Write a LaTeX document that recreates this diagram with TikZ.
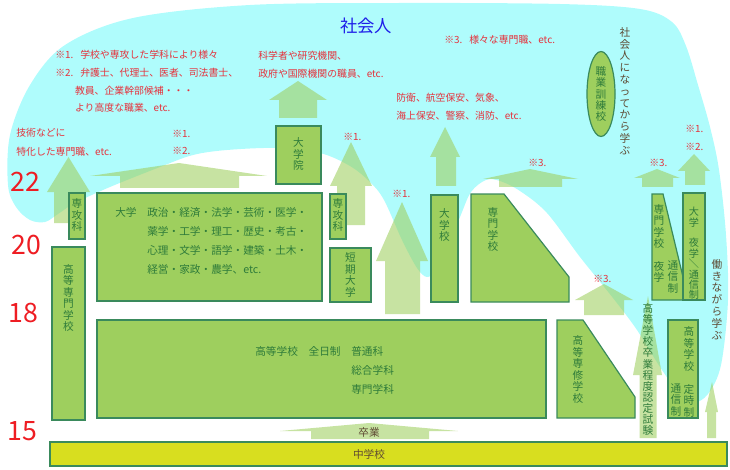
\documentclass[tikz,border=0pt]{standalone}
\usepackage{fontspec}
\setmainfont{Noto Sans CJK JP}
\usetikzlibrary{shapes.geometric,fit}
\definecolor{skycyan}{HTML}{AFFCFC}
\definecolor{edufill}{HTML}{9ECF5E}
\definecolor{edugreen}{HTML}{3A8A5C}
\definecolor{edutext}{HTML}{2E7B3A}
\definecolor{notered}{HTML}{E5323C}
\definecolor{agered}{HTML}{EE1D23}
\definecolor{workblue}{HTML}{1E1EE8}
\definecolor{sidebrown}{HTML}{5E4A33}
\definecolor{jhsyellow}{HTML}{D8DE1F}

\begin{document}
\begin{tikzpicture}[x=0.75pt, y=-0.75pt,
    box/.style={draw=edugreen, line width=0.9pt, fill=edufill, inner sep=0pt},
    blockarrow/.style={fill=edufill, fill opacity=0.58},
    vtext/.style={text=edutext, inner sep=0pt, align=center, font={\fontsize{8}{8.6}\selectfont\lineskiplimit=-5pt}},
    htext/.style={text=edutext, inner sep=0pt, align=left, font={\fontsize{8}{14.25}\selectfont}},
    note/.style={text=notered, inner sep=0pt, align=left, font={\fontsize{7.4}{13.3}\selectfont}},
    side/.style={text=sidebrown, inner sep=0pt, align=center, font={\fontsize{8}{8.85}\selectfont\lineskiplimit=-5pt}},
    age/.style={text=agered, inner sep=0pt, font={\fontsize{20}{20}\selectfont}}]
  \useasboundingbox (0,0) rectangle (730,470);

  % society blob
  \fill[skycyan] plot[smooth cycle, tension=0.55] coordinates {
    (8,185) (10,135) (30,85) (65,45) (133,18) (250,5) (400,3) (560,4) (640,9)
    (672,22) (686,46) (698,85) (710,127) (719,170) (726,235) (728,300) (721,365)
    (708,394) (693,403) (680,395) (660,367) (637,330) (613,298) (580,257)
    (547,213) (520,191) (500,181) (486,180) (471,192) (460,217) (447,248)
    (436,270) (427,277) (417,268) (402,240) (384,200) (370,182) (350,166)
    (320,153) (277,148) (227,150) (193,155) (160,167) (110,187) (75,203)
    (58,214) (45,222) (30,220) (16,207)};

  % block arrows
  \fill[blockarrow] (54,223) -- (54,192) -- (47,192) -- (68.5,157) -- (90,192) -- (83,192) -- (83,223) -- cycle;
  \fill[blockarrow] (120,188) -- (120,176) -- (90,176) -- (179,163) -- (267,176) -- (239,176) -- (239,188) -- cycle;
  \fill[blockarrow] (279,118) -- (279,100) -- (269,100) -- (298,81) -- (327,100) -- (317,100) -- (317,118) -- cycle;
  \fill[blockarrow] (337,225) -- (337,186) -- (330,186) -- (351,142) -- (372,186) -- (365,186) -- (365,225) -- cycle;
  \fill[blockarrow] (385,314) -- (385,261) -- (376,261) -- (402,202) -- (428,261) -- (420,261) -- (420,314) -- cycle;
  \fill[blockarrow] (436,186) -- (436,157) -- (430,157) -- (445,127) -- (460,157) -- (456,157) -- (456,186) -- cycle;
  \fill[blockarrow] (499,187) -- (499,179) -- (483,179) -- (530,169) -- (578,179) -- (562,179) -- (562,187) -- cycle;
  \fill[blockarrow] (584,315) -- (584,300) -- (575,300) -- (604,284) -- (633,300) -- (624,300) -- (624,315) -- cycle;
  \fill[blockarrow] (642,187) -- (642,178) -- (634,178) -- (657,169) -- (680,178) -- (673,178) -- (673,187) -- cycle;
  \fill[blockarrow] (685,185) -- (685,171) -- (678,171) -- (694,154) -- (710,171) -- (705,171) -- (705,185) -- cycle;
  \fill[blockarrow] (639.5,438) -- (639.5,375) -- (633,375) -- (648,296) -- (662,375) -- (656.5,375) -- (656.5,438) -- cycle;
  \fill[blockarrow] (707,438) -- (707,412) -- (705,412) -- (712,382) -- (718,412) -- (716,412) -- (716,438) -- cycle;
  \fill[blockarrow] (311,439) -- (311,431) -- (280,431) -- (369,423) -- (458,431) -- (429,431) -- (429,439) -- cycle;

  % schools
  \node[box, fit={(69,193) (85,239)}] (senkouL) {};
  \node[box, fit={(52,247) (85,420)}] (kosen) {};
  \node[box, fit={(97,193) (322,301)}] (daigaku) {};
  \node[box, fit={(276,126) (321,184)}] (daigakuin) {};
  \node[box, fit={(330,194) (346,239)}] (senkouM) {};
  \node[box, fit={(330,248) (371,302)}] (tandai) {};
  \node[box, fit={(431,195) (458,302)}] (daigakko) {};
  \draw[box] (471,194) -- (504,194) -- (569,277) -- (569,302) -- (471,302) -- cycle;
  \node[box, fit={(97,320) (546,418)}] (koko) {};
  \draw[box] (557,320) -- (583,320) -- (635,397) -- (635,418) -- (557,418) -- cycle;
  \node[box, fit={(668,320) (698,418)}] (teiji) {};
  \draw[box] (652,194) -- (663,194) -- (683,277) -- (683,300) -- (652,300) -- cycle;
  \node[box, fit={(683,193) (705,300)}] (daigakuYa) {};
  \node[box, ellipse, minimum width=21pt, minimum height=63.75pt] (shokugyo) at (601,94) {};
  \node[box, fill=jhsyellow, fit={(50,442) (727,466)}] (chugaku) {};

  % school names
  \node[vtext] (senkouLtxt) at (77,215) {専\\攻\\科};
  \node[vtext] (kosentxt) at (68.5,298) {高\\等\\専\\門\\学\\校};
  \node[htext, anchor=north west] (daigakutxt) at (115,207) {大学　政治・経済・法学・芸術・医学・\\\hspace*{3em}薬学・工学・理工・歴史・考古・\\\hspace*{3em}心理・文学・語学・建築・土木・\\\hspace*{3em}経営・家政・農学、etc.};
  \node[vtext] (daigakuintxt) at (298.5,154) {大\\学\\院};
  \node[vtext] (senkouMtxt) at (338,215) {専\\攻\\科};
  \node[vtext] (tandaitxt) at (350.5,275) {短\\期\\大\\学};
  \node[vtext] (daigakkotxt) at (444.5,225) {大\\学\\校};
  \node[vtext] (senmontxt) at (493,229.5) {専\\門\\学\\校};
  \node[htext, anchor=north west] (kokotxt) at (255,346) {高等学校　全日制　普通科\\\hspace*{9em}総合学科\\\hspace*{9em}専門学科};
  \node[vtext] (kosenshutxt) at (578,369.5) {高\\等\\専\\修\\学\\校};
  \node[vtext] (teijiR) at (689,372) {高\\等\\学\\校\\　\\定\\時\\制};
  \node[vtext] (teijiL) at (676,400) {通\\信\\制};
  \node[vtext] (senmonYaL) at (659,243.5) {専\\門\\学\\校\\　\\夜\\学};
  \node[vtext] (senmonYaR) at (673,277) {通\\信\\制};
  \node[vtext, font={\fontsize{7.6}{7.8}\selectfont\lineskiplimit=-5pt}] (daigakuYatxt) at (694,253.5) {大\\学\\　\\夜\\学\\＼\\通\\信\\制};
  \node[vtext] (shokugyotxt) at (601,94) {職\\業\\訓\\練\\校};
  \node[vtext, font={\fontsize{8}{8.3}\selectfont\lineskiplimit=-5pt}] (ninteitxt) at (648,369.5) {高\\等\\学\\校\\卒\\業\\程\\度\\認\\定\\試\\験};
  \node[text=sidebrown, inner sep=0pt, font={\fontsize{8}{8}\selectfont}] (chugakutxt) at (369,454) {中学校};
  \node[text=sidebrown, inner sep=0pt, font={\fontsize{8}{8}\selectfont}] (sotsugyo) at (369,432) {卒業};

  % side notes
  \node[side] (shakaijin) at (625,91) {社\\会\\人\\に\\な\\っ\\て\\か\\ら\\学\\ぶ};
  \node[side] (hataraki) at (717,299.5) {働\\き\\な\\が\\ら\\学\\ぶ};
  \node[text=workblue, inner sep=0pt, font={\fontsize{13}{13}\selectfont}] (title) at (366,26) {社会人};

  % careers
  \node[note, anchor=north west] (noteA) at (55,50) {※1.\hspace{0.7em}学校や専攻した学科により様々\\※2.\hspace{0.7em}弁護士、代理士、医者、司法書士、\\\hspace*{2em}教員、企業幹部候補・・・\\\hspace*{2em}より高度な職業、etc.};
  \node[note, anchor=north west, font={\fontsize{7.4}{14.2}\selectfont}] (noteB) at (16,128) {技術などに\\特化した専門職、etc.};
  \node[note, anchor=north west, font={\fontsize{7.4}{12.75}\selectfont}] (noteC) at (172,130) {※1.\\※2.};
  \node[note, anchor=north west, font={\fontsize{7.4}{13.5}\selectfont}] (noteD) at (258,51) {科学者や研究機関、\\政府や国際機関の職員、etc.};
  \node[note, anchor=west] (noteE) at (444,40) {※3.\hspace{0.7em}様々な専門職、etc.};
  \node[note, anchor=north west, font={\fontsize{7.4}{13.5}\selectfont}] (noteF) at (396,93) {防衛、航空保安、気象、\\海上保安、警察、消防、etc.};
  \node[note, anchor=west] (noteG) at (343,137) {※1.};
  \node[note, anchor=west] (noteH) at (392,194) {※1.};
  \node[note, anchor=west] (noteI) at (528,163) {※3.};
  \node[note, anchor=west] (noteJ) at (593,279) {※3.};
  \node[note, anchor=west] (noteK) at (649,163) {※3.};
  \node[note, anchor=north west, font={\fontsize{7.4}{13.5}\selectfont}] (noteL) at (685,125) {※1.\\※2.};

  % ages
  \node[age] (age22) at (25,182) {22};
  \node[age] (age20) at (26,245) {20};
  \node[age] (age18) at (23,313) {18};
  \node[age] (age15) at (22,431) {15};
\end{tikzpicture}
\end{document}
